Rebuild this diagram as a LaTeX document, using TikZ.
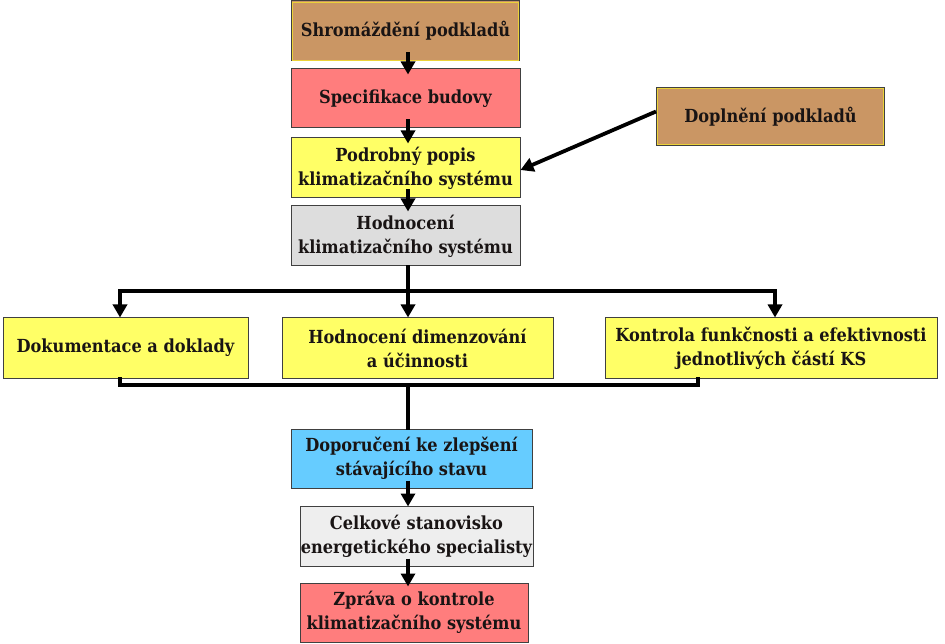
\documentclass[tikz,border=0pt]{standalone}
\usepackage{fontspec}
\setmainfont{DejaVu Serif Condensed}
\usetikzlibrary{arrows.meta}
\definecolor{tan}{RGB}{202,150,100}
\definecolor{pinkbox}{RGB}{255,125,125}
\definecolor{yelbox}{RGB}{255,255,102}
\definecolor{graybox}{RGB}{221,221,221}
\definecolor{bluebox}{RGB}{102,204,255}
\definecolor{lgraybox}{RGB}{238,238,238}
\definecolor{txt}{RGB}{25,20,20}
\tikzset{
  box/.style={draw=black!75, line width=1pt, text=txt, font=\bfseries\fontsize{18}{24}\selectfont, align=center, inner sep=0pt},
  conn/.style={line width=3.8pt, line cap=rect},
  arr/.style={line width=3.8pt, -{Triangle[width=14pt,length=13pt]}}
}
\begin{document}
\begin{tikzpicture}[x=1pt,y=-1pt]
\useasboundingbox (0,0) rectangle (945,644);
\node[box, fill=tan, minimum width=228pt, minimum height=60pt] (b1) at (405.5,31) {Shromáždění podkladů};
\draw[yellow!60!tan, line width=0.8pt] ([shift={(1.5pt,1.5pt)}]b1.south west) rectangle ([shift={(-1.5pt,-1.5pt)}]b1.north east);
\node[box, fill=pinkbox, minimum width=229pt, minimum height=59pt] (b2) at (405.5,98.5) {Specifikace budovy};
\node[box, fill=yelbox, minimum width=229pt, minimum height=60pt] (b3) at (405.5,168) {Podrobný popis\\klimatizačního systému};
\node[box, fill=graybox, minimum width=229pt, minimum height=60pt] (b4) at (405.5,236) {Hodnocení\\klimatizačního systému};
\node[box, fill=tan, minimum width=228pt, minimum height=58pt] (dp) at (770.5,116.5) {Doplnění podkladů};
\draw[yellow!60!tan, line width=0.8pt] ([shift={(1.5pt,1.5pt)}]dp.south west) rectangle ([shift={(-1.5pt,-1.5pt)}]dp.north east);
\node[box, fill=yelbox, minimum width=245pt, minimum height=60pt] (d1) at (125.5,348) {Dokumentace a doklady};
\node[box, fill=yelbox, minimum width=271pt, minimum height=60pt] (d2) at (417.5,348) {Hodnocení dimenzování\\a účinnosti};
\node[box, fill=yelbox, minimum width=332pt, minimum height=60pt] (d3) at (771,348) {Kontrola funkčnosti a efektivnosti\\jednotlivých částí KS};
\node[box, fill=bluebox, minimum width=241pt, minimum height=59pt] (r1) at (411.5,458.5) {Doporučení ke zlepšení\\stávajícího stavu};
\node[box, fill=lgraybox, minimum width=233pt, minimum height=60pt] (r2) at (416.5,536) {Celkové stanovisko\\energetického specialisty};
\node[box, fill=pinkbox, minimum width=228pt, minimum height=59pt] (r3) at (414,612.5) {Zpráva o kontrole\\klimatizačního systému};
% coordinates
\coordinate (bl) at (120,291);
\coordinate (bc) at (408,291);
\coordinate (bright) at (775,291);
\coordinate (ml) at (120,385);
\coordinate (mc) at (408,385);
\coordinate (mr) at (698,385);
% connectors
\draw[arr] ([yshift=9pt]b1.south -| bc) -- ([yshift=-6pt]b2.north -| bc);
\draw[arr] ([yshift=9pt]b2.south -| bc) -- ([yshift=-6pt]b3.north -| bc);
\draw[arr] ([yshift=9pt]b3.south -| bc) -- ([yshift=-6pt]b4.north -| bc);
\draw[arr] ([yshift=5pt]dp.west) -- ([yshift=-2pt]b3.east);
\draw[conn] (b4.south -| bc) -- (bc);
\draw[conn] (bl) -- (bright);
\draw[arr] (bl) -- (bl |- d1.north);
\draw[arr] (bc) -- (bc |- d2.north);
\draw[arr] (bright) -- (bright |- d3.north);
\draw[conn] (ml |- d1.south) -- (ml) -- (mr) -- (mr |- d3.south);
\draw[conn] (mc) -- (r1.north -| mc);
\draw[arr] ([yshift=8pt]r1.south -| bc) -- ([yshift=-1pt]r2.north -| bc);
\draw[arr] ([yshift=8pt]r2.south -| bc) -- ([yshift=-4pt]r3.north -| bc);
\end{tikzpicture}
\end{document}
